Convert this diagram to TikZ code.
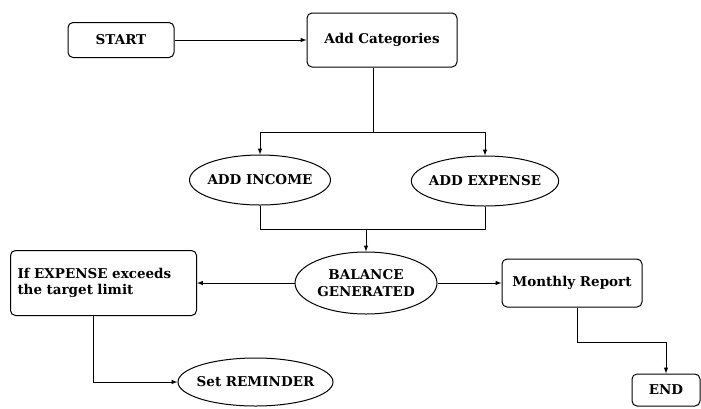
\documentclass[tikz,border=0pt]{standalone}
\usepackage{fontspec}
\setmainfont{DejaVu Serif}
\usetikzlibrary{shapes.geometric}

\begin{document}
\begin{tikzpicture}[x=1pt, y=-1pt, line width=1pt, font=\bfseries\fontsize{13.5}{16.5}\selectfont,
    box/.style={draw, rounded corners=5pt, align=center, inner sep=2pt},
    oval/.style={draw, ellipse, align=center, inner ysep=0pt, inner xsep=-4pt},
    flow/.style={->, >=latex}]
    \useasboundingbox (0,0) rectangle (701,408);
    % boxes
    \node[box, minimum width=106pt, minimum height=35pt](start) at (121,40){START};
    \node[box, minimum width=150pt, minimum height=54pt](addcat) at (382,40){Add Categories};
    \node[oval, minimum width=141pt, minimum height=50pt](income) at (260,180){ADD INCOME};
    \node[oval, minimum width=141pt, minimum height=50pt](expense) at (485,181){ADD EXPENSE};
    \node[oval, minimum width=142pt, minimum height=62pt](balance) at (366,283){BALANCE\\GENERATED};
    \node[box, text width=172pt, inner sep=7pt, minimum height=65pt, align=left](ifexp) at (103.5,283){If EXPENSE exceeds\\the target limit};
    \node[box, minimum width=140pt, minimum height=48pt](monthly) at (572,283){Monthly Report};
    \node[oval, minimum width=151pt, minimum height=48pt](reminder) at (255.5,382){Set REMINDER};
    \node[box, minimum width=68pt, minimum height=32pt](end) at (666,390){END};
    \coordinate(split) at (373,132);
    \coordinate(merge) at (366,229);
    % connectors
    \draw[flow](start)--(addcat);
    \draw([xshift=-9pt]addcat.south)--(split);
    \draw[flow](split)-|(income);
    \draw[flow](split)-|(expense);
    \draw(income)|-(merge);
    \draw(expense)|-(merge);
    \draw[flow](merge)--(balance);
    \draw[flow](balance)--(ifexp);
    \draw[flow](balance)--(monthly);
    \draw[flow]([xshift=-10pt]ifexp.south)|-(reminder);
    \draw[flow]([xshift=5pt]monthly.south)--++(0,35)-|(end);
\end{tikzpicture}
\end{document}
